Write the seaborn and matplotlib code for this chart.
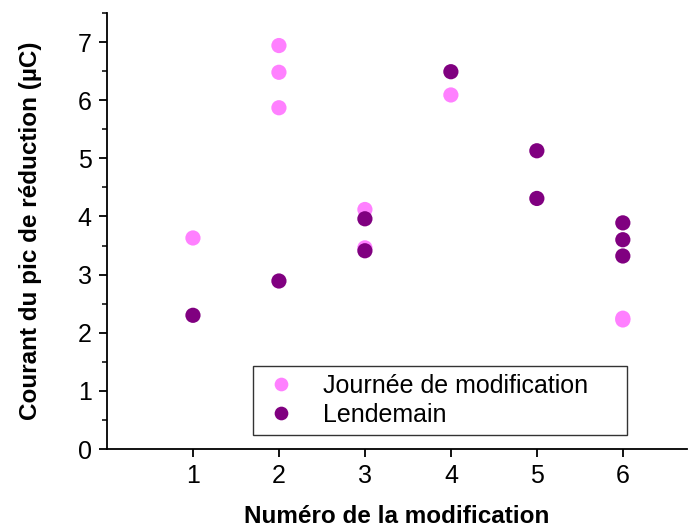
import matplotlib
matplotlib.use("Agg")
import matplotlib.pyplot as plt
from matplotlib.ticker import MultipleLocator
import seaborn as sns
import pandas as pd

# Peak reduction charge per modification, measured on the day and the day after
jour_x = [1, 2, 2, 2, 3, 3, 4, 6, 6]
jour_y = [3.63, 6.94, 6.48, 5.87, 4.12, 3.46, 6.09, 2.25, 2.22]
lend_x = [1, 2, 3, 3, 4, 5, 5, 6, 6, 6]
lend_y = [2.30, 2.89, 3.96, 3.41, 6.49, 5.13, 4.31, 3.89, 3.60, 3.32]
series = ["Journée de modification", "Lendemain"]
colors = ["#FF80FF", "#800080"]

df = pd.concat([
    pd.DataFrame({"x": jour_x, "y": jour_y, "serie": series[0]}),
    pd.DataFrame({"x": lend_x, "y": lend_y, "serie": series[1]}),
], ignore_index=True)

sns.set_style("ticks")
plt.rcParams["font.family"] = ["Liberation Sans", "DejaVu Sans"]
plt.rcParams["text.color"] = "black"
plt.rcParams["axes.labelcolor"] = "black"

fig = plt.figure(figsize=(6.88, 5.28), dpi=100)
ax = fig.add_axes([0.1555, 0.1496, 0.8435, 0.8258])

sns.scatterplot(data=df, x="x", y="y", hue="serie", hue_order=series,
                palette=colors, s=120, linewidth=0, ax=ax, legend=True)

ax.set_xlim(0, 6.75)
ax.set_ylim(0, 7.5)
ax.set_xticks([1, 2, 3, 4, 5, 6])
ax.set_yticks(range(0, 8))
ax.yaxis.set_minor_locator(MultipleLocator(0.5))
ax.tick_params(axis="both", which="major", length=6, width=1.3, pad=5,
               labelsize=18, color="black", labelcolor="black", direction="out")
ax.tick_params(axis="y", which="minor", length=3.5, width=1.3, direction="out")

for side in ["top", "right"]:
    ax.spines[side].set_visible(False)
for side in ["left", "bottom"]:
    ax.spines[side].set_linewidth(1.3)
    ax.spines[side].set_color("black")

ax.set_xlabel("Numéro de la modification", fontsize=17.5, fontweight="bold",
              labelpad=12, color="black")
ax.set_ylabel("Courant du pic de réduction (µC)", fontsize=17.5, fontweight="bold",
              labelpad=26, color="black")

leg = ax.legend(loc="upper left", bbox_to_anchor=(0.2521, 0.190, 0.6442, 0.0),
                mode="expand", fontsize=18, frameon=True, fancybox=False,
                borderpad=0.3, handletextpad=0.9, labelspacing=0.22,
                handlelength=1.6, markerscale=0.9, borderaxespad=0)
leg.get_frame().set_edgecolor("black")
leg.get_frame().set_linewidth(1.0)
for t in leg.get_texts():
    t.set_color("black")

fig.savefig("out.png", dpi=100)
